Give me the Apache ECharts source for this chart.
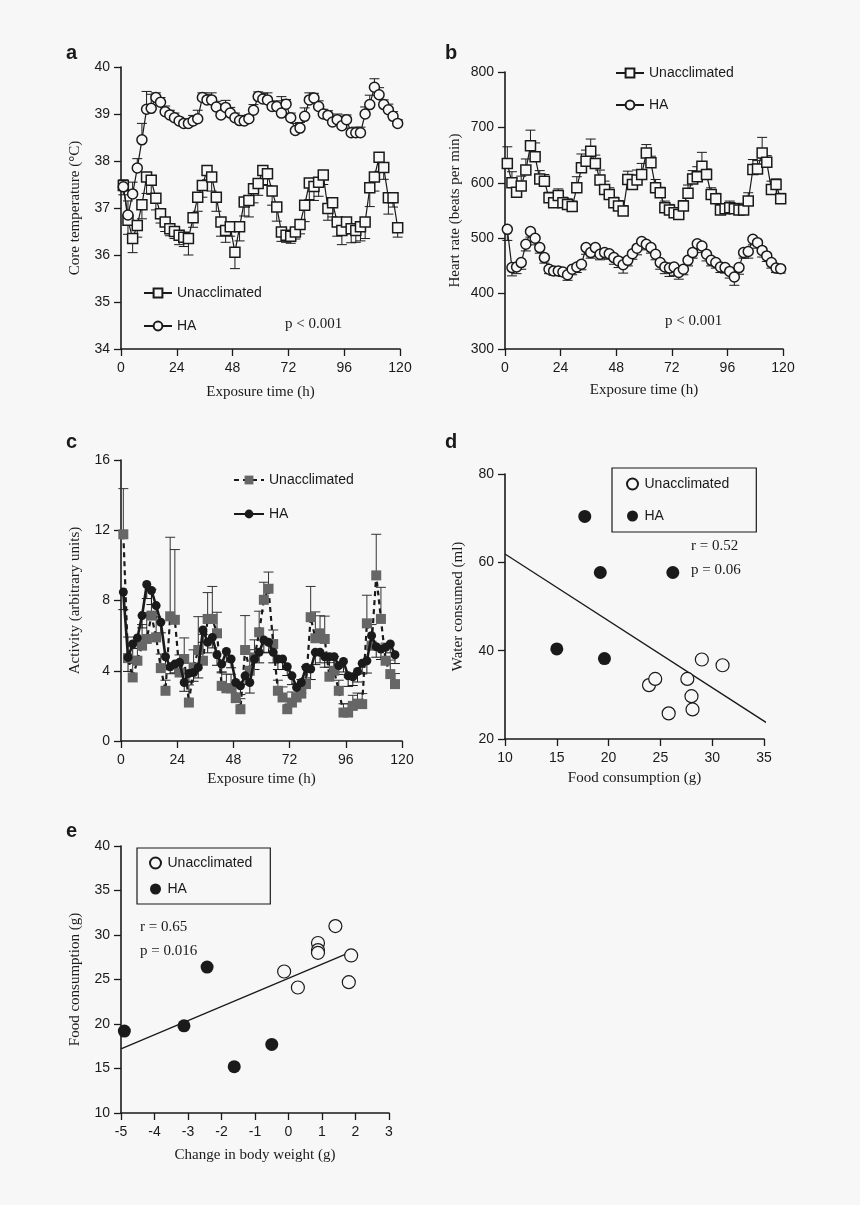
<!DOCTYPE html>
<html><head><meta charset="utf-8">
<script src="https://cdn.jsdelivr.net/npm/echarts@6/dist/echarts.min.js"></script>
<style>html,body{margin:0;padding:0;background:#f7f7f7}#c{width:860px;height:1205px}</style>
</head><body><div id="c"></div><script>
// ---------- data ----------
const hoursAB = [1,3,5,7,9,11,13,15,17,19,21,23,25,27,29,31,33,35,37,39,41,43,45,47,49,51,53,55,57,59,61,63,65,67,69,71,73,75,77,79,81,83,85,87,89,91,93,95,97,99,101,103,105,107,109,111,113,115,117,119];
const hoursC = [1,3,5,7,9,11,13,15,17,19,21,23,25,27,29,31,33,35,37,39,41,43,45,47,49,51,53,55,57,59,61,63,65,67,69,71,73,75,77,79,81,83,85,87,89,91,93,95,97,99,101,103,105,107,109,111,113,115,117];

const tempUnacc = [37.48,36.74,36.35,36.63,37.07,37.66,37.59,37.21,36.88,36.70,36.56,36.50,36.42,36.38,36.35,36.79,37.23,37.48,37.80,37.66,37.23,36.70,36.52,36.60,36.06,36.60,37.13,37.16,37.41,37.52,37.80,37.73,37.36,37.02,36.49,36.42,36.40,36.49,36.65,37.06,37.53,37.46,37.55,37.70,36.99,37.11,36.70,36.52,36.70,36.56,36.52,36.60,36.70,37.43,37.66,38.08,37.86,37.22,37.22,36.58];
const tempUnaccErr = [0.20,0.30,0.30,0.25,0.30,0.35,0.30,0.25,0.20,0.20,0.15,0.15,0.20,0.20,0.35,0.20,0.30,0.25,0.20,0.30,0.30,0.30,0.25,0.20,0.35,0.30,0.30,0.35,0.30,0.25,0.30,0.25,0.30,0.30,0.20,0.15,0.15,0.15,0.20,0.35,0.35,0.30,0.30,0.20,0.25,0.30,0.30,0.30,0.25,0.30,0.25,0.30,0.35,0.40,0.30,0.30,0.25,0.35,0.20,0.20];
const tempHA = [37.45,36.85,37.30,37.85,38.45,39.10,39.12,39.35,39.25,39.05,38.98,38.92,38.85,38.80,38.80,38.85,38.90,39.35,39.30,39.30,39.15,38.98,39.14,39.02,38.92,38.86,38.85,38.90,39.08,39.37,39.32,39.30,39.16,39.16,39.02,39.21,38.92,38.65,38.70,38.95,39.30,39.34,39.16,39.00,38.97,38.83,38.88,38.75,38.88,38.60,38.60,38.60,39.00,39.20,39.57,39.41,39.20,39.09,38.95,38.80];
const tempHAErr = [0.15,0.30,0.25,0.20,0.35,0.38,0.30,0.10,0.10,0.12,0.10,0.10,0.08,0.08,0.08,0.12,0.18,0.10,0.12,0.15,0.12,0.20,0.15,0.12,0.10,0.10,0.12,0.08,0.12,0.10,0.12,0.15,0.10,0.12,0.35,0.10,0.10,0.15,0.12,0.18,0.15,0.10,0.12,0.10,0.10,0.08,0.12,0.15,0.10,0.10,0.12,0.12,0.15,0.20,0.18,0.15,0.10,0.12,0.10,0.08];

const hrUnacc = [635,600,583,594,623,667,647,607,603,573,564,577,564,561,557,591,627,639,657,635,605,588,579,564,558,549,606,597,605,615,654,636,591,582,555,551,546,543,558,581,607,611,630,615,579,571,551,553,555,553,551,551,567,624,625,654,637,588,597,571];
const hrUnaccErr = [30,20,15,18,20,28,25,15,12,10,15,12,10,10,10,20,25,20,22,15,18,15,12,10,10,10,15,15,18,20,15,12,15,10,12,10,8,8,10,15,15,18,25,10,12,10,10,8,12,10,10,12,15,18,15,28,12,15,10,10];
const hrHA = [516,447,448,456,489,512,500,483,465,444,441,441,439,434,444,448,453,483,474,483,471,474,472,465,459,452,460,472,482,494,489,483,471,456,448,446,448,438,444,460,474,490,486,471,460,456,448,447,440,430,447,474,476,498,492,478,468,456,446,445];
const hrHAErr = [20,15,12,12,12,10,12,10,10,8,8,8,8,10,10,10,10,12,10,10,10,10,10,12,12,15,10,10,12,10,10,10,10,12,12,15,15,12,10,10,10,10,12,12,10,10,10,10,12,15,12,10,12,10,10,12,10,10,8,8];

const actUnacc = [11.77,4.72,3.62,4.57,5.43,5.81,7.14,5.90,4.15,2.86,7.10,6.90,3.90,4.67,2.19,4.19,5.18,4.57,6.95,6.95,6.13,3.14,3.00,3.00,2.44,1.81,5.18,4.00,4.76,6.19,8.04,8.67,5.52,2.86,2.48,1.81,2.19,2.48,2.70,3.24,7.05,5.85,6.13,5.81,3.66,4.00,2.86,1.62,1.62,2.00,2.13,2.10,6.70,5.43,9.43,6.95,4.57,3.81,3.24];
const actUnaccErr = [2.6,1.2,0.8,1.0,1.2,1.5,1.5,1.2,0.8,0.6,4.5,4.0,1.0,1.2,1.0,1.0,1.9,1.5,1.5,1.85,1.2,0.8,0.8,0.8,0.6,0.6,1.96,1.2,1.0,1.2,1.0,0.95,0.8,0.6,0.6,0.6,0.6,0.8,0.8,1.0,1.75,1.5,1.0,1.3,0.8,0.8,0.6,0.5,0.5,0.6,0.6,0.6,1.6,1.2,2.34,1.8,1.0,0.8,0.6];
const actHA = [8.48,4.76,5.52,5.87,7.14,8.91,8.57,7.71,6.76,4.80,4.23,4.38,4.48,3.33,3.85,3.90,4.19,6.32,5.62,5.90,4.91,4.38,5.10,4.67,3.33,3.14,3.71,3.33,4.67,5.05,5.75,5.62,5.05,4.67,4.67,4.23,3.71,3.05,3.33,4.19,4.10,5.05,5.05,4.80,4.80,4.80,4.29,4.53,3.71,3.66,3.96,4.42,4.57,6.00,5.37,5.24,5.33,5.52,4.91];
const actHAErr = [1.0,0.8,0.7,0.6,0.7,0.8,0.8,0.7,0.6,0.5,0.4,0.5,0.6,0.5,0.5,0.5,0.6,0.7,0.6,0.6,0.6,0.5,0.6,0.5,0.6,0.5,0.5,0.6,0.6,0.6,0.7,0.6,0.6,0.6,0.6,0.5,0.5,0.5,0.6,0.6,0.6,0.7,0.6,0.6,0.6,0.6,0.5,0.6,0.6,0.5,0.6,0.6,0.7,0.8,0.6,0.6,0.6,0.5,0.5];

const foodUnaccD = [23.9,24.5,27.6,29.0,31.0,28.0,28.1,25.8];
const waterUnaccD = [32.2,33.6,33.6,38.0,36.7,29.7,26.7,25.8];
const foodHAD = [17.7,19.2,26.2,15.0,19.6];
const waterHAD = [70.4,57.7,57.7,40.4,38.2];
const fitDx = [10, 35.3];
const fitDy = [61.9, 23.6];

const bwUnaccE = [-0.13,0.28,0.88,0.88,0.88,1.40,1.87,1.80];
const foodUnaccE = [25.9,24.1,29.1,28.3,28.0,31.0,27.7,24.7];
const bwHAE = [-4.9,-3.12,-2.43,-1.62,-0.5];
const foodHAE = [19.2,19.8,26.4,15.2,17.7];
const fitEx = [-5, 1.87];
const fitEy = [17.2, 28.1];

const legendNames = {aUn:'Unacclimated', aHA:'HA', bUn:'Unacclimated', bHA:'HA', cUn:'Unacclimated', cHA:'HA', dUn:'Unacclimated', dHA:'HA', eUn:'Unacclimated', eHA:'HA'};

// ---------- helpers ----------
const BG = '#f7f7f7', INK = '#1a1a1a';
const SANS = 'Liberation Sans', SERIF = 'Liberation Serif';
const zip = (xs, ys) => xs.map((x, i) => [x, ys[i]]);

function axis(gi, min, max, interval, name, gap, isY) {
  return {
    type: 'value', gridIndex: gi, min, max, interval,
    name, nameLocation: 'middle', nameGap: gap, nameRotate: isY ? 90 : 0,
    nameTextStyle: {fontFamily: SERIF, fontSize: 15, color: INK},
    axisLine: {show: true, onZero: false, lineStyle: {color: INK, width: 1.6}},
    axisTick: {show: true, length: 7, lineStyle: {color: INK, width: 1.3}},
    axisLabel: {fontFamily: SANS, fontSize: 14, color: INK, margin: isY ? 11 : 12},
    splitLine: {show: false}
  };
}
function errSeries(gi, xs, ys, es, dir, color, hw) {
  return {
    type: 'custom', xAxisIndex: gi, yAxisIndex: gi, silent: true, z: 1,
    encode: {x: 0, y: 1},
    data: xs.map((x, i) => [x, ys[i], es[i]]),
    renderItem(params, api) {
      const x = api.value(0), y = api.value(1), e = api.value(2);
      const p0 = api.coord([x, y]), p1 = api.coord([x, y + dir * e]);
      return {type: 'group', children: [
        {type: 'line', shape: {x1: p0[0], y1: p0[1], x2: p1[0], y2: p1[1]}, style: {stroke: color, lineWidth: 1}},
        {type: 'line', shape: {x1: p1[0] - hw, y1: p1[1], x2: p1[0] + hw, y2: p1[1]}, style: {stroke: color, lineWidth: 1}}
      ]};
    }
  };
}
function openLine(name, gi, data, symbol, size) {
  return {
    name, type: 'line', xAxisIndex: gi, yAxisIndex: gi, z: 3, data,
    symbol, symbolSize: size, showAllSymbol: true,
    lineStyle: {color: INK, width: 1.2},
    itemStyle: {color: BG, borderColor: INK, borderWidth: 1.5}
  };
}
function scatter(name, gi, data, filled) {
  return {
    name, type: 'scatter', xAxisIndex: gi, yAxisIndex: gi, z: 3, data, symbolSize: 13,
    itemStyle: filled ? {color: INK, opacity: 1} : {color: BG, borderColor: INK, borderWidth: 1.2, opacity: 1}
  };
}
function fitLine(gi, xs, ys) {
  return {type: 'line', xAxisIndex: gi, yAxisIndex: gi, data: zip(xs, ys), showSymbol: false, symbol: 'none',
    lineStyle: {color: INK, width: 1.3}, silent: true, z: 2};
}
function legend(names, left, top, gap, boxed, iw) {
  const l = {
    data: names, left, top, orient: 'vertical', itemGap: gap, itemWidth: iw, itemHeight: 11,
    formatter: n => legendNames[n], selectedMode: false,
    textStyle: {fontFamily: SANS, fontSize: 14, color: INK}
  };
  if (boxed) { l.borderColor = INK; l.borderWidth = 1.2; l.padding = boxed; }
  return l;
}
function txt(t, left, top, font, size, weight) {
  return {type: 'text', left, top, style: {text: t, fontFamily: font, fontSize: size, fontWeight: weight || 'normal', fill: INK}};
}

const option = {
  backgroundColor: BG,
  animation: false,
  grid: [
    {left: 121, top: 67, width: 279, height: 282},
    {left: 505, top: 72, width: 278, height: 277},
    {left: 121, top: 460, width: 281, height: 281},
    {left: 505, top: 474, width: 259, height: 265},
    {left: 121, top: 846, width: 268, height: 267}
  ],
  xAxis: [
    axis(0, 0, 120, 24, 'Exposure time (h)', 36),
    axis(1, 0, 120, 24, 'Exposure time (h)', 34),
    axis(2, 0, 120, 24, 'Exposure time (h)', 31),
    axis(3, 10, 35, 5, 'Food consumption (g)', 32),
    axis(4, -5, 3, 1, 'Change in body weight (g)', 35)
  ],
  yAxis: [
    axis(0, 34, 40, 1, 'Core temperature (\u00B0C)', 38, true),
    axis(1, 300, 800, 100, 'Heart rate (beats per min)', 42, true),
    axis(2, 0, 16, 4, 'Activity (arbitrary units)', 38, true),
    axis(3, 20, 80, 20, 'Water consumed (ml)', 39, true),
    axis(4, 10, 40, 5, 'Food consumption (g)', 38, true)
  ],
  legend: [
    legend(['aUn', 'aHA'], 138, 281, 19, null, 28),
    legend(['bUn', 'bHA'], 610, 61, 18, null, 28),
    legend(['cUn', 'cHA'], 228, 468, 20, null, 30),
    legend(['dUn', 'dHA'], 612, 468, 18, [9, 27, 9, 14], 14),
    legend(['eUn', 'eHA'], 137, 848, 12, [8, 18, 8, 12], 14)
  ],
  graphic: [
    txt('a', 66, 43, SANS, 20, 'bold'),
    txt('b', 445, 43, SANS, 20, 'bold'),
    txt('c', 66, 432, SANS, 20, 'bold'),
    txt('d', 445, 432, SANS, 20, 'bold'),
    txt('e', 66, 821, SANS, 20, 'bold'),
    txt('p < 0.001', 285, 317, SERIF, 15),
    txt('p < 0.001', 665, 314, SERIF, 15),
    txt('r = 0.52', 691, 539, SERIF, 15),
    txt('p = 0.06', 691, 563, SERIF, 15),
    txt('r = 0.65', 140, 920, SERIF, 15),
    txt('p = 0.016', 140, 944, SERIF, 15)
  ],
  series: [
    errSeries(0, hoursAB, tempHA, tempHAErr, 1, INK, 5),
    errSeries(0, hoursAB, tempUnacc, tempUnaccErr, -1, INK, 5),
    openLine('aUn', 0, zip(hoursAB, tempUnacc), 'rect', 10),
    openLine('aHA', 0, zip(hoursAB, tempHA), 'circle', 10),

    errSeries(1, hoursAB, hrUnacc, hrUnaccErr, 1, INK, 5),
    errSeries(1, hoursAB, hrHA, hrHAErr, -1, INK, 5),
    openLine('bUn', 1, zip(hoursAB, hrUnacc), 'rect', 10),
    openLine('bHA', 1, zip(hoursAB, hrHA), 'circle', 10),

    errSeries(2, hoursC, actUnacc, actUnaccErr, 1, '#333', 5),
    errSeries(2, hoursC, actHA, actHAErr, -1, INK, 5),
    {name: 'cUn', type: 'line', xAxisIndex: 2, yAxisIndex: 2, z: 3, data: zip(hoursC, actUnacc),
      symbol: 'rect', symbolSize: 10, showAllSymbol: true,
      lineStyle: {color: INK, width: 2.2, type: [5, 4]}, itemStyle: {color: '#666', borderWidth: 0}},
    {name: 'cHA', type: 'line', xAxisIndex: 2, yAxisIndex: 2, z: 4, data: zip(hoursC, actHA),
      symbol: 'circle', symbolSize: 9, showAllSymbol: true,
      lineStyle: {color: INK, width: 2.6}, itemStyle: {color: INK}},

    fitLine(3, fitDx, fitDy),
    scatter('dUn', 3, zip(foodUnaccD, waterUnaccD), false),
    scatter('dHA', 3, zip(foodHAD, waterHAD), true),

    fitLine(4, fitEx, fitEy),
    scatter('eUn', 4, zip(bwUnaccE, foodUnaccE), false),
    scatter('eHA', 4, zip(bwHAE, foodHAE), true)
  ]
};
const chart = echarts.init(document.getElementById('c'), null, {renderer: 'canvas'});
chart.setOption(option);
</script></body></html>
